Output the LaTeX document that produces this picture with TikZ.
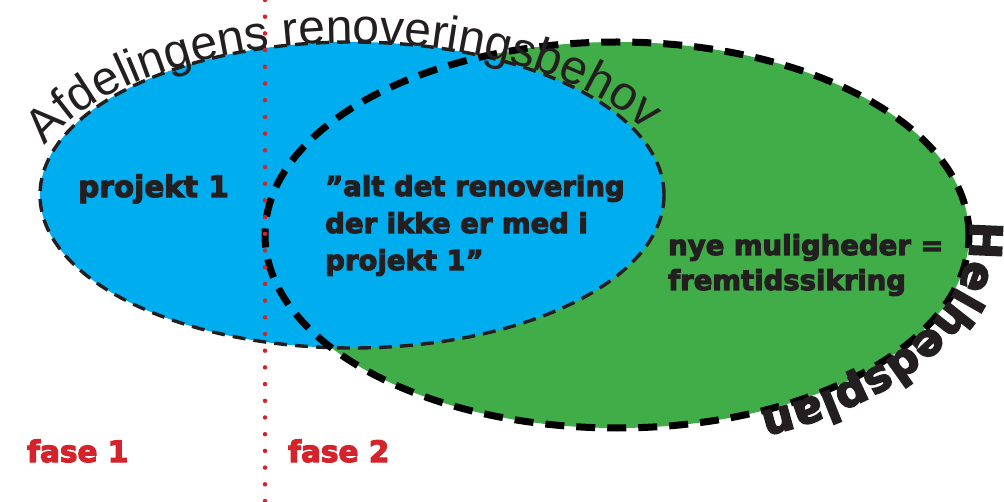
\documentclass[tikz,border=0pt]{standalone}
\usepackage{fontspec}
\setmainfont{DejaVu Sans}[BoldFeatures={FakeBold=4}]
\newfontfamily\thinsans{Liberation Sans}
\usetikzlibrary{decorations.text}
\definecolor{Sky}{RGB}{0,174,239}
\definecolor{Meadow}{RGB}{65,173,73}
\definecolor{Ink}{RGB}{35,31,32}
\definecolor{Phase}{RGB}{212,35,42}

\begin{document}
\begin{tikzpicture}[
    x=1pt,
    y=1pt,
    every node/.style={inner sep=0pt, text=Ink},
    bluezone/.style={fill=Sky, draw=Ink, line width=3.4pt, dash pattern=on 13pt off 8pt},
    greenzone/.style={fill=Meadow},
    greenrim/.style={draw=black, line width=7pt, dash pattern=on 19pt off 12pt},
    zonetext/.style={font=\bfseries\fontsize{27.5}{37}\selectfont, align=left, anchor=base west},
    phasetext/.style={font=\bfseries\fontsize{29.5}{29.5}\selectfont, text=Phase, anchor=base west},
    phaseline/.style={draw=Phase, line width=4.5pt, line cap=round, dash pattern=on 0pt off 16.7pt}
  ]
  \useasboundingbox (0,0) rectangle (1004,-502);

  % Helhedsplan area, blue need on top of it
  \fill[greenzone] (617,-235) ellipse [x radius=352, y radius=193];
  \draw[bluezone] (352,-195) ellipse [x radius=312, y radius=153];
  \draw[greenrim] (617,-235) ellipse [x radius=352, y radius=193];

  % curved titles
  \path[decorate, decoration={text along path,
      text={|\thinsans\fontsize{48}{48}\selectfont\color{Ink}|Afdelingens renoveringsbehov}}]
    (352,-205) ++(158.5:330 and 162) arc [start angle=158.5, end angle=0, x radius=330, y radius=162];
  \path[decorate, decoration={text along path,
      text={|\bfseries\fontsize{44}{44}\selectfont\color{Ink}|Helhedsplan}}]
    (617,-235) ++(4:353 and 194) arc [start angle=4, end angle=-120, x radius=353, y radius=194];

  % texts in the zones
  \node[zonetext, font=\bfseries\fontsize{29.5}{37}\selectfont] (proj) at (78,-197) {projekt 1};
  \node[zonetext] (rest) at (325,-270) {”alt det renovering\\der ikke er med i\\projekt 1”};
  \node[zonetext, font=\bfseries\fontsize{27.5}{35}\selectfont] (nye) at (668,-290) {nye muligheder =\\fremtidssikring};

  % phase split
  \coordinate (top) at (265,0);
  \coordinate (bottom) at (265,-502);
  \draw[phaseline] (top) -- (bottom);
  \node[phasetext] (fase1) at (27,-462) {fase 1};
  \node[phasetext] (fase2) at (288,-462) {fase 2};
\end{tikzpicture}
\end{document}
